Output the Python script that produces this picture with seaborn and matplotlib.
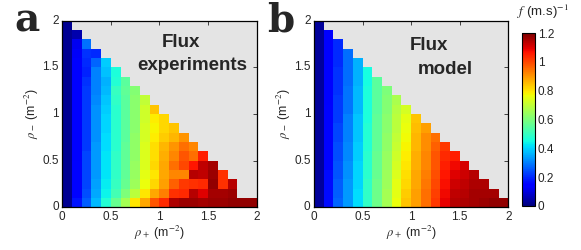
import numpy as np
import pandas as pd
import matplotlib
matplotlib.use("Agg")
import matplotlib.pyplot as plt
import seaborn as sns

NAN = np.nan

# cell centres (m^-2), cells are 0.1 wide from 0 to 2
rho_plus = [0.05, 0.15, 0.25, 0.35, 0.45, 0.55, 0.65, 0.75, 0.85, 0.95,
            1.05, 1.15, 1.25, 1.35, 1.45, 1.55, 1.65, 1.75, 1.85, 1.95]
rho_minus = list(rho_plus)
tick_vals = [0, 0.5, 1, 1.5, 2]
tick_labels = ["0", "0.5", "1", "1.5", "2"]
cbar_ticks = [0, 0.2, 0.4, 0.6, 0.8, 1.0, 1.2]
cbar_labels = ["0", "0.2", "0.4", "0.6", "0.8", "1", "1.2"]

# measured flux f (m.s)^-1, one list per rho- row, starting at rho- = 0.05
flux_exp = [
    [0.02, 0.17, 0.26, 0.37, 0.47, 0.57, 0.66, 0.80, 0.88, 0.98, 1.04, 1.15, 1.17, 1.17, 1.16, 1.17, 1.17, 1.18, 1.18, 1.18],
    [0.02, 0.15, 0.24, 0.35, 0.44, 0.52, 0.60, 0.69, 0.80, 0.88, 0.93, 1.03, 1.04, 1.14, 1.10, 1.16, 1.16, 1.17],
    [0.02, 0.15, 0.23, 0.34, 0.43, 0.50, 0.57, 0.65, 0.76, 0.82, 0.89, 0.97, 1.02, 1.03, 1.04, 1.18, 1.03, 1.14],
    [0.02, 0.15, 0.23, 0.33, 0.42, 0.49, 0.56, 0.64, 0.75, 0.80, 0.88, 0.92, 0.92, 1.14, 1.13, 1.17, 1.03],
    [0.02, 0.15, 0.23, 0.33, 0.42, 0.49, 0.56, 0.64, 0.74, 0.82, 0.88, 0.95, 1.00, 1.06, 1.13, 1.16],
    [0.02, 0.14, 0.23, 0.33, 0.42, 0.49, 0.56, 0.63, 0.74, 0.81, 0.87, 0.92, 0.98, 0.95, 1.05],
    [0.02, 0.14, 0.22, 0.33, 0.41, 0.48, 0.56, 0.63, 0.74, 0.81, 0.86, 0.90, 0.95, 0.92],
    [0.02, 0.14, 0.22, 0.32, 0.41, 0.48, 0.55, 0.63, 0.73, 0.79, 0.83, 0.86, 0.90],
    [0.02, 0.14, 0.22, 0.32, 0.40, 0.48, 0.55, 0.62, 0.73, 0.78, 0.82, 0.84],
    [0.02, 0.14, 0.22, 0.32, 0.40, 0.48, 0.55, 0.62, 0.72, 0.79, 0.82],
    [0.02, 0.14, 0.22, 0.32, 0.39, 0.48, 0.55, 0.62, 0.72, 0.84],
    [0.02, 0.14, 0.22, 0.31, 0.38, 0.49, 0.55, 0.62, 0.70],
    [0.02, 0.14, 0.22, 0.30, 0.37, 0.50, 0.56, 0.61],
    [0.02, 0.14, 0.21, 0.30, 0.36, 0.47, 0.55],
    [0.02, 0.14, 0.19, 0.30, 0.375, 0.46],
    [0.02, 0.14, 0.20, 0.27, 0.39],
    [0.02, 0.13, 0.21, 0.20],
    [0.02, 0.12, 0.285],
    [0.02, 0.05],
    [0.02],
]

# model flux, same layout
flux_model = [
    [0.03, 0.16, 0.27, 0.33, 0.41, 0.49, 0.58, 0.66, 0.76, 0.84, 0.89, 0.95, 1.02, 1.09, 1.14, 1.15, 1.16, 1.17, 1.18, 1.18],
    [0.03, 0.16, 0.26, 0.33, 0.41, 0.49, 0.58, 0.66, 0.75, 0.83, 0.89, 0.95, 1.01, 1.08, 1.13, 1.14, 1.16, 1.16, 1.16],
    [0.03, 0.16, 0.26, 0.33, 0.40, 0.49, 0.58, 0.65, 0.75, 0.82, 0.88, 0.94, 1.00, 1.07, 1.12, 1.13, 1.15, 1.15],
    [0.03, 0.16, 0.25, 0.32, 0.40, 0.48, 0.57, 0.65, 0.74, 0.81, 0.88, 0.93, 0.99, 1.06, 1.10, 1.12, 1.14],
    [0.03, 0.15, 0.25, 0.32, 0.40, 0.48, 0.57, 0.64, 0.73, 0.80, 0.87, 0.92, 0.98, 1.05, 1.08, 1.11],
    [0.03, 0.15, 0.24, 0.31, 0.39, 0.48, 0.57, 0.64, 0.72, 0.79, 0.87, 0.92, 0.98, 1.04, 1.05],
    [0.03, 0.15, 0.24, 0.31, 0.39, 0.47, 0.56, 0.63, 0.71, 0.78, 0.86, 0.91, 0.97, 1.02],
    [0.03, 0.15, 0.23, 0.30, 0.38, 0.47, 0.56, 0.63, 0.70, 0.77, 0.86, 0.91, 0.95],
    [0.03, 0.15, 0.23, 0.30, 0.38, 0.47, 0.56, 0.62, 0.69, 0.76, 0.85, 0.89],
    [0.03, 0.15, 0.22, 0.30, 0.38, 0.46, 0.56, 0.62, 0.69, 0.75, 0.84],
    [0.03, 0.15, 0.22, 0.29, 0.37, 0.46, 0.55, 0.61, 0.68, 0.73],
    [0.03, 0.14, 0.22, 0.29, 0.37, 0.46, 0.55, 0.61, 0.67],
    [0.03, 0.14, 0.21, 0.29, 0.37, 0.46, 0.55, 0.60],
    [0.03, 0.14, 0.21, 0.28, 0.36, 0.45, 0.55],
    [0.03, 0.14, 0.21, 0.28, 0.36, 0.45],
    [0.03, 0.14, 0.20, 0.28, 0.36],
    [0.03, 0.14, 0.20, 0.28],
    [0.03, 0.14, 0.20],
    [0.03, 0.14],
    [0.03],
]


def to_frame(rows):
    # pad each row with NaN so the empty triangle shows the grey background
    grid = [r + [NAN] * (len(rho_plus) - len(r)) for r in rows]
    return pd.DataFrame(grid, index=rho_minus, columns=rho_plus)


sns.set_style("white")
plt.rcParams["font.family"] = ["Liberation Sans", "DejaVu Sans"]
plt.rcParams["mathtext.fontset"] = "stix"

fig = plt.figure(figsize=(5.81, 2.5), dpi=100)
ax_a = fig.add_axes([0.1072, 0.1708, 0.3346, 0.7464])
ax_b = fig.add_axes([0.5404, 0.1708, 0.3346, 0.7464])
cax = fig.add_axes([0.899, 0.177, 0.0219, 0.690])

panels = [
    (ax_a, flux_exp, "a", 0.025, [("Flux", 12.2, 17.2), ("experiments", 13.4, 14.7)]),
    (ax_b, flux_model, "b", 0.460, [("Flux", 11.8, 16.9), ("model", 13.5, 14.3)]),
]

n = len(rho_plus)
for ax, rows, letter, lx, notes in panels:
    df = to_frame(rows)
    last = ax is ax_b
    sns.heatmap(df, ax=ax, cmap="jet", vmin=0, vmax=1.2, cbar=last,
                cbar_ax=cax if last else None, linewidths=0)
    ax.set_facecolor("#e4e4e4")
    ax.set_xlim(0, n)
    ax.set_ylim(0, n)
    pos = [v * 10 for v in tick_vals]
    ax.set_xticks(pos)
    ax.set_xticklabels(tick_labels, rotation=0, fontsize=8.5)
    ax.set_yticks(pos)
    ax.set_yticklabels(tick_labels, rotation=0, fontsize=8.5)
    ax.tick_params(direction="in", top=True, right=True, length=3, width=0.6, pad=2.5)
    for s in ax.spines.values():
        s.set_visible(True)
        s.set_color("black")
        s.set_linewidth(0.9)
    ax.set_xlabel(r"$\rho_+$ (m$^{-2}$)", fontsize=9, labelpad=1)
    ax.set_ylabel(r"$\rho_-$ (m$^{-2}$)", fontsize=9, labelpad=1)
    for txt, x, y in notes:
        ax.text(x, y, txt, ha="center", va="baseline", fontsize=13.5, fontweight="bold")
    fig.text(lx, 0.876, letter, fontsize=28, fontweight="bold",
             family=["DejaVu Serif"], va="baseline")

cb = ax_b.collections[0].colorbar
cb.set_ticks(cbar_ticks)
cb.set_ticklabels(cbar_labels)
cb.ax.tick_params(labelsize=8.5, direction="in", length=2, width=0.6, pad=2)
cb.outline.set_visible(True)
cb.outline.set_linewidth(0.8)
cb.outline.set_edgecolor("black")
fig.text(0.89, 0.935, r"$f$ (m.s)$^{-1}$", fontsize=9.5, va="baseline")

fig.savefig("out.png", dpi=100)
